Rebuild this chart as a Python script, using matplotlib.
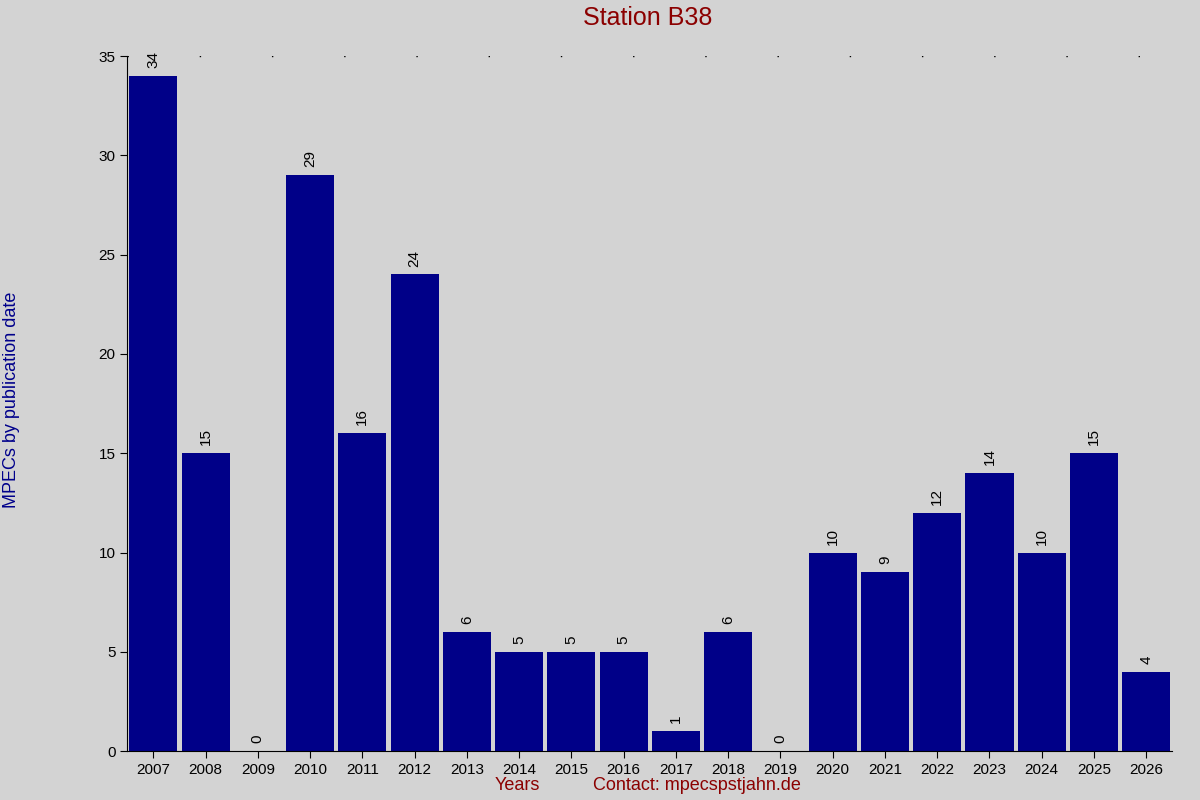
import matplotlib
matplotlib.use("Agg")
import matplotlib.pyplot as plt

years = [str(y) for y in range(2007, 2027)]
values = [34, 15, 0, 29, 16, 24, 6, 5, 5, 5, 1, 6, 0, 10, 9, 12, 14, 10, 15, 4]

plt.rcParams['font.family'] = ['Liberation Sans', 'DejaVu Sans']
fig = plt.figure(figsize=(12, 8), dpi=100, facecolor='#d3d3d3')
ax = fig.add_axes([0.106, 0.061, 0.871, 0.869], facecolor='#d3d3d3')
x = list(range(len(years)))
ax.bar(x, values, width=0.92, color='#000088')
for xi, v in zip(x, values):
    ax.text(xi, v + 0.4, str(v), rotation=90, ha='center', va='bottom', fontsize=11, color='black')
ax.set_xlim(-0.5, len(years) - 0.5)
ax.set_ylim(0, 35)
ax.set_yticks(range(0, 36, 5))
ax.set_xticks(x)
ax.set_xticklabels(years)
ax.tick_params(labelsize=11, length=5)
ax.axhline(35, color='black', linestyle=(0, (1, 51)), linewidth=1)
for s in ['top', 'right']:
    ax.spines[s].set_visible(False)
fig.text(0.54, 0.977, 'Station B38', ha='center', va='center', fontsize=18, color='#8b0000')
fig.text(0.431, 0.018, 'Years', ha='center', va='center', fontsize=13, color='#8b0000')
fig.text(0.581, 0.018, 'Contact: mpecspstjahn.de', ha='center', va='center', fontsize=13, color='#8b0000')
fig.text(0.01, 0.5, 'MPECs by publication date', rotation=90, ha='center', va='center', fontsize=13, color='#00008b')
fig.savefig('out.png', dpi=100, facecolor='#d3d3d3')
